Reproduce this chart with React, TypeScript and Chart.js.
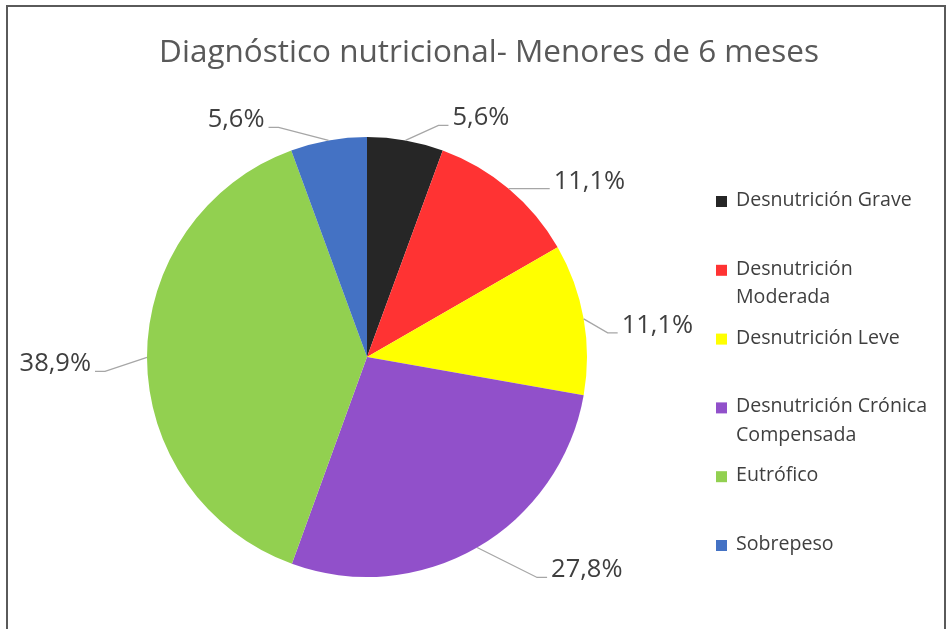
import { useEffect, useRef } from "react";
import { Chart, registerables } from "chart.js";

Chart.register(...registerables);

const chartTitle = "Diagnóstico nutricional- Menores de 6 meses";
const categories = [
  "Desnutrición Grave",
  "Desnutrición Moderada",
  "Desnutrición Leve",
  "Desnutrición Crónica Compensada",
  "Eutrófico",
  "Sobrepeso",
];
const legendLines = [
  ["Desnutrición Grave"],
  ["Desnutrición", "Moderada"],
  ["Desnutrición Leve"],
  ["Desnutrición Crónica", "Compensada"],
  ["Eutrófico"],
  ["Sobrepeso"],
];
const values = [5.6, 11.1, 11.1, 27.8, 38.9, 5.6];
const colors = ["#262626", "#FF3333", "#FFFF00", "#9150CA", "#92D050", "#4472C4"];
// leader-line end offsets (style) relative to slice edge at mid-angle
const labelOffsets = [
  [43, -15],
  [41, 0],
  [34, 14],
  [70, 30],
  [-52, 14],
  [-60, -13],
];

const FONT = "'Open Sans', 'Noto Sans', sans-serif";

const fmt = (v: number) => v.toFixed(1).replace(".", ",") + "%";

const decorPlugin = {
  id: "decor",
  afterDraw(chart: any) {
    const ctx = chart.ctx;
    const meta = chart.getDatasetMeta(0);
    ctx.save();
    // title
    ctx.fillStyle = "#595959";
    ctx.font = `31.5px ${FONT}`;
    ctx.textAlign = "center";
    ctx.textBaseline = "alphabetic";
    ctx.fillText(chartTitle, 489, 62);

    // data labels with leader lines
    ctx.font = `25.5px ${FONT}`;
    meta.data.forEach((arc: any, i: number) => {
      const p = arc.getProps(["x", "y", "startAngle", "endAngle", "outerRadius"], true);
      const mid = (p.startAngle + p.endAngle) / 2;
      const ex = p.x + Math.cos(mid) * p.outerRadius;
      const ey = p.y + Math.sin(mid) * p.outerRadius;
      const [dx, dy] = labelOffsets[i];
      const endX = ex + dx;
      const endY = ey + dy;
      const right = dx >= 0;
      const elbowX = right ? endX - 10 : endX + 10;
      ctx.strokeStyle = "#A6A6A6";
      ctx.lineWidth = 1.3;
      ctx.beginPath();
      ctx.moveTo(ex, ey);
      ctx.lineTo(elbowX, endY);
      ctx.lineTo(endX, endY);
      ctx.stroke();
      ctx.fillStyle = "#3F3F3F";
      ctx.textAlign = right ? "left" : "right";
      ctx.fillText(fmt(values[i]), right ? endX + 4 : endX - 4, endY);
    });

    // legend
    ctx.font = `19.6px ${FONT}`;
    ctx.textAlign = "left";
    legendLines.forEach((lines, i) => {
      const base = 206 + i * 68.8;
      ctx.fillStyle = colors[i];
      ctx.fillRect(716, base - 10, 11, 11);
      ctx.fillStyle = "#3F3F3F";
      lines.forEach((t, j) => ctx.fillText(t, 736, base + j * 28.5));
    });
    ctx.restore();
  },
};

export default function App() {
  const ref = useRef<HTMLCanvasElement | null>(null);
  useEffect(() => {
    if (!ref.current) return;
    const chart = new Chart(ref.current, {
      type: "pie",
      data: {
        labels: categories,
        datasets: [
          {
            data: values,
            backgroundColor: colors,
            borderWidth: 0,
          },
        ],
      },
      options: {
        animation: false,
        responsive: false,
        layout: { padding: { left: 147, right: 360, top: 137, bottom: 52 } },
        plugins: {
          legend: { display: false },
          title: { display: false },
          tooltip: { enabled: false },
        },
      },
      plugins: [decorPlugin],
    });
    return () => chart.destroy();
  }, []);
  return (
    <div
      style={{
        position: "fixed",
        left: 0,
        top: 0,
        width: 947,
        height: 629,
        overflow: "hidden",
        background: "#fff",
      }}
    >
      <canvas ref={ref} width={947} height={629} style={{ position: "absolute", left: 0, top: 0 }} />
      <div
        style={{
          position: "absolute",
          left: 6,
          top: 5,
          width: 936,
          height: 700,
          border: "2px solid #5A5A5A",
          borderBottom: "none",
          pointerEvents: "none",
        }}
      />
    </div>
  );
}
